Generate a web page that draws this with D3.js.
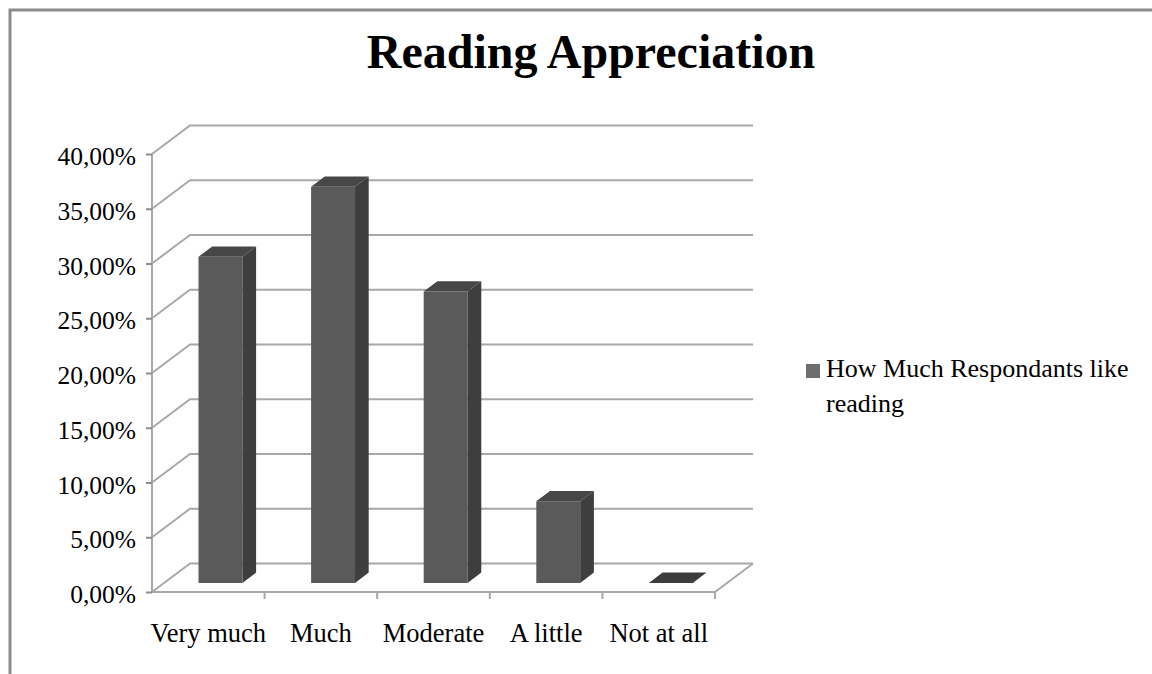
<!DOCTYPE html>
<html>
<head>
<meta charset="utf-8">
<script src="https://cdn.jsdelivr.net/npm/d3@7"></script>
<style>
  body { margin: 0; background: #fff; }
  svg { display: block; font-family: "Liberation Serif", "Times New Roman", serif; }
</style>
</head>
<body>
<div id="chart"></div>
<script>
// donnees du graphique
const categories = ["Very much", "Much", "Moderate", "A little", "Not at all"];
const values = [29.79, 36.17, 26.60, 7.45, 0];
const yTicks = [0, 5, 10, 15, 20, 25, 30, 35, 40];
const seriesName = ["How Much Respondants like", "reading"];
const titleText = "Reading Appreciation";

const W = 1152, H = 674;
const DX = 38, DY = 28.5;        // profondeur du plancher 3D
const F1 = 0.32, F2 = 0.68;      // profondeur des barres

const svg = d3.select("#chart").append("svg")
    .attr("width", W)
    .attr("height", H);

// cadre
svg.append("rect")
    .attr("x", 10).attr("y", 10)
    .attr("width", W + 20).attr("height", H + 20)
    .attr("fill", "none")
    .attr("stroke", "#8c8c8c")
    .attr("stroke-width", 3);

// titre
svg.append("text")
    .attr("x", 591).attr("y", 68)
    .attr("text-anchor", "middle")
    .attr("font-size", 48)
    .attr("font-weight", "bold")
    .text(titleText);

// echelles
const x = d3.scaleBand().domain(categories).range([152, 715]).padding(0);
const y = d3.scaleLinear().domain([0, 40]).range([592, 154]);

const proj = (px, v, f) => [px + f * DX, y(v) - f * DY];
const line = pts => "M" + pts.map(p => p.join(",")).join("L");

const grid = svg.append("g").attr("stroke", "#a8a8a8").attr("stroke-width", 2).attr("fill", "none");

// lignes de grille (mur gauche + mur du fond)
yTicks.forEach(t => {
    grid.append("path").attr("d", line([proj(152, t, 0), proj(152, t, 1), proj(715, t, 1)]));
});
// plancher
grid.append("path").attr("d", line([proj(152, 0, 0), proj(715, 0, 0), proj(715, 0, 1)]));
// axe vertical avant
grid.append("path").attr("d", line([proj(152, 0, 0), proj(152, 40, 0)]));

// graduations des categories
const bounds = categories.map(c => x(c) + x.bandwidth());
svg.append("g").selectAll("line")
    .data(bounds)
    .enter()
    .append("line")
    .attr("x1", d => d).attr("x2", d => d)
    .attr("y1", y(0)).attr("y2", y(0) + 7)
    .attr("stroke", "#a8a8a8")
    .attr("stroke-width", 2);

// axe Y
const fr = d3.formatLocale({ decimal: ",", thousands: ".", grouping: [3], currency: ["", ""] });
const fmt = fr.format(".2f");
const yAxis = d3.axisLeft(y)
    .tickValues(yTicks)
    .tickSize(6)
    .tickPadding(10)
    .tickFormat(d => fmt(d) + "%");
const gy = svg.append("g")
    .attr("transform", "translate(152,0)")
    .call(yAxis);
gy.select(".domain").remove();
gy.selectAll(".tick line").attr("stroke", "#8c8c8c").attr("stroke-width", 2);
gy.selectAll(".tick text")
    .attr("font-family", "Liberation Serif, serif")
    .attr("font-size", 25.5)
    .attr("fill", "#000")
    .attr("dy", "0.42em");

// etiquettes des categories
const xAxis = d3.axisBottom(x).tickSize(0).tickPadding(0);
const gx = svg.append("g")
    .attr("transform", "translate(0,0)")
    .call(xAxis);
gx.select(".domain").remove();
gx.selectAll(".tick text")
    .attr("y", 642)
    .attr("dy", 0)
    .attr("font-family", "Liberation Serif, serif")
    .attr("font-size", 26.5)
    .attr("fill", "#000");

// barres 3D
const barW = x.bandwidth() * 0.39;
const bars = svg.append("g").selectAll("g")
    .data(categories.map((c, i) => ({ c, v: values[i] })))
    .enter()
    .append("g");

bars.each(function (d) {
    const g = d3.select(this);
    const x0 = x(d.c) + (x.bandwidth() - barW) / 2;
    const x1 = x0 + barW;
    if (d.v > 0) {
        // face avant
        g.append("path")
            .attr("d", line([proj(x0, 0, F1), proj(x1, 0, F1), proj(x1, d.v, F1), proj(x0, d.v, F1)]) + "Z")
            .attr("fill", "#5a5a5a");
        // face droite
        g.append("path")
            .attr("d", line([proj(x1, 0, F1), proj(x1, 0, F2), proj(x1, d.v, F2), proj(x1, d.v, F1)]) + "Z")
            .attr("fill", "#3e3e3e");
    }
    // dessus
    g.append("path")
        .attr("d", line([proj(x0, d.v, F1), proj(x1, d.v, F1), proj(x1, d.v, F2), proj(x0, d.v, F2)]) + "Z")
        .attr("fill", d.v > 0 ? "#474747" : "#3c3c3c");
});

// legende
const leg = svg.append("g");
leg.append("rect")
    .attr("x", 806).attr("y", 364)
    .attr("width", 14).attr("height", 14)
    .attr("fill", "#6e6e6e");
leg.selectAll("text")
    .data(seriesName)
    .enter()
    .append("text")
    .attr("x", 826)
    .attr("y", (d, i) => 377 + i * 35)
    .attr("font-size", 26)
    .attr("fill", "#000")
    .text(d => d);
</script>
</body>
</html>
